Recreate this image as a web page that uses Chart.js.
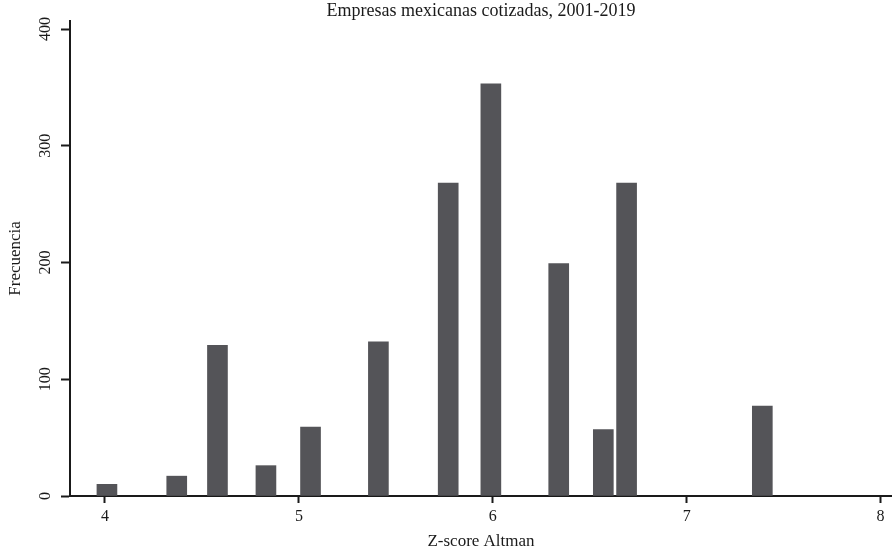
<!DOCTYPE html>
<html>
<head>
<meta charset="utf-8">
<script src="https://cdn.jsdelivr.net/npm/chart.js@4/dist/chart.umd.min.js"></script>
<style>
  html, body { margin: 0; padding: 0; background: #fff; }
  #wrap { width: 892px; height: 550px; }
</style>
</head>
<body>
<div id="wrap"><canvas id="chart" width="892" height="550"></canvas></div>
<script>
// 数据
const zScores = [4.01, 4.37, 4.58, 4.83, 5.06, 5.41, 5.77, 5.99, 6.34, 6.57, 6.69, 7.39];
const freqs = [10, 17, 129, 26, 59, 132, 268, 353, 199, 57, 268, 77];
const xTicks = [4, 5, 6, 7, 8];
const yTicks = [0, 100, 200, 300, 400];

const serif = '"Liberation Serif", "Times New Roman", serif';
const ink = '#1a1a1a';

const ctx = document.getElementById('chart').getContext('2d');
new Chart(ctx, {
    type: 'bar',
    data: {
        datasets: [{
            label: 'Frecuencia',
            data: zScores.map((z, i) => ({ x: z, y: freqs[i] })),
            backgroundColor: '#545458',
            borderWidth: 0,
            barThickness: 20
        }]
    },
    options: {
        responsive: false,
        animation: false,
        layout: { padding: 0 },
        plugins: {
            legend: { display: false },
            tooltip: { enabled: false },
            title: {
                display: true,
                fullSize: false,
                text: 'Empresas mexicanas cotizadas, 2001-2019',
                color: ink,
                font: { family: serif, size: 18, weight: 'normal', lineHeight: 1.05 },
                padding: { top: 2, bottom: 0 }
            }
        },
        scales: {
            x: {
                type: 'linear',
                offset: false,
                min: 3.8195,
                max: 8.0588,
                afterBuildTicks: s => { s.ticks = xTicks.map(v => ({ value: v })); },
                afterFit: s => { s.height = 54; },
                grid: {
                    offset: false,
                    drawOnChartArea: false,
                    drawTicks: true,
                    tickLength: 7,
                    tickWidth: 2,
                    tickColor: ink
                },
                border: { display: true, color: ink, width: 2 },
                ticks: {
                    color: ink,
                    padding: 4,
                    maxRotation: 0,
                    font: { family: serif, size: 16 }
                },
                title: {
                    display: true,
                    text: 'Z-score Altman',
                    color: ink,
                    font: { family: serif, size: 17, lineHeight: 1 },
                    padding: { top: 0, bottom: 0 }
                }
            },
            y: {
                min: 0,
                max: 407,
                afterBuildTicks: s => { s.ticks = yTicks.map(v => ({ value: v })); },
                afterFit: s => { s.width = 70; },
                grid: {
                    drawOnChartArea: false,
                    drawTicks: true,
                    tickLength: 9,
                    tickWidth: 2,
                    tickColor: ink
                },
                border: { display: true, color: ink, width: 2 },
                ticks: {
                    color: ink,
                    padding: 3,
                    minRotation: 90,
                    maxRotation: 90,
                    crossAlign: 'center',
                    font: { family: serif, size: 16 }
                },
                title: {
                    display: true,
                    text: 'Frecuencia',
                    color: ink,
                    font: { family: serif, size: 17 },
                    padding: { top: 5, bottom: 4 }
                }
            }
        }
    }
});
</script>
</body>
</html>
